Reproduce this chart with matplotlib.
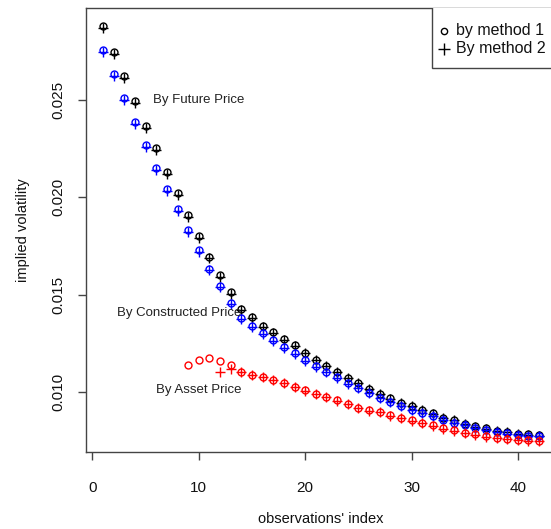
import matplotlib
matplotlib.use("Agg")
import matplotlib.pyplot as plt
from matplotlib.patches import Rectangle

plt.rcParams["font.family"] = ["Liberation Sans", "DejaVu Sans"]

# observation index
obs = list(range(1, 43))
asset_obs_m1 = list(range(9, 43))
asset_obs_m2 = list(range(12, 43))

# implied volatility, future price
future_m1 = [0.02882, 0.02748, 0.02623, 0.02496, 0.02366, 0.02252, 0.02132, 0.02021,
             0.01909, 0.01801, 0.01695, 0.01601, 0.01512, 0.01425, 0.01384, 0.01341,
             0.01307, 0.01271, 0.01240, 0.01202, 0.01168, 0.01137, 0.01104, 0.01074,
             0.01048, 0.01019, 0.00993, 0.00968, 0.00945, 0.00928, 0.00908, 0.00891,
             0.00870, 0.00856, 0.00839, 0.00825, 0.00814, 0.00801, 0.00796, 0.00788,
             0.00784, 0.00779]
future_m2 = [0.02871, 0.02737, 0.02612, 0.02486, 0.02356, 0.02242, 0.02122, 0.02012,
             0.01900, 0.01793, 0.01688, 0.01594, 0.01506, 0.01420, 0.01380, 0.01337,
             0.01304, 0.01268, 0.01237, 0.01200, 0.01166, 0.01135, 0.01102, 0.01072,
             0.01046, 0.01018, 0.00992, 0.00967, 0.00944, 0.00927, 0.00907, 0.00890,
             0.00869, 0.00855, 0.00838, 0.00824, 0.00813, 0.00800, 0.00795, 0.00787,
             0.00783, 0.00778]

# implied volatility, constructed price
constructed_m1 = [0.02757, 0.02632, 0.02509, 0.02385, 0.02269, 0.02149, 0.02041, 0.01940,
                  0.01832, 0.01729, 0.01635, 0.01545, 0.01459, 0.01382, 0.01339, 0.01302,
                  0.01267, 0.01230, 0.01199, 0.01164, 0.01134, 0.01106, 0.01076, 0.01045,
                  0.01024, 0.00996, 0.00973, 0.00950, 0.00928, 0.00911, 0.00894, 0.00877,
                  0.00856, 0.00842, 0.00831, 0.00815, 0.00805, 0.00795, 0.00789, 0.00782,
                  0.00777, 0.00774]
constructed_m2 = [0.02746, 0.02621, 0.02498, 0.02375, 0.02259, 0.02140, 0.02032, 0.01932,
                  0.01824, 0.01722, 0.01628, 0.01539, 0.01454, 0.01378, 0.01335, 0.01299,
                  0.01264, 0.01227, 0.01197, 0.01162, 0.01132, 0.01104, 0.01074, 0.01044,
                  0.01023, 0.00995, 0.00972, 0.00949, 0.00927, 0.00910, 0.00893, 0.00876,
                  0.00855, 0.00841, 0.00830, 0.00814, 0.00804, 0.00794, 0.00788, 0.00781,
                  0.00776, 0.00773]

# implied volatility, asset price
asset_m1 = [0.01139, 0.01168, 0.01175, 0.01159, 0.01142, 0.01104, 0.01091, 0.01079,
            0.01065, 0.01048, 0.01027, 0.01010, 0.00993, 0.00976, 0.00959, 0.00942,
            0.00921, 0.00908, 0.00899, 0.00882, 0.00870, 0.00856, 0.00842, 0.00831,
            0.00814, 0.00805, 0.00791, 0.00784, 0.00774, 0.00767, 0.00762, 0.00757,
            0.00753, 0.00750]
asset_m2 = [0.01104, 0.01117, 0.01102, 0.01089, 0.01077, 0.01063, 0.01046, 0.01025,
            0.01008, 0.00991, 0.00974, 0.00957, 0.00940, 0.00919, 0.00906, 0.00897,
            0.00880, 0.00868, 0.00854, 0.00840, 0.00829, 0.00812, 0.00803, 0.00789,
            0.00782, 0.00772, 0.00765, 0.00760, 0.00755, 0.00751, 0.00748]

x_ticks = [0, 10, 20, 30, 40]
y_ticks = [0.010, 0.015, 0.020, 0.025]
legend_labels = ["by method 1", "By method 2"]
legend_markers = ["o", "+"]

fig = plt.figure(figsize=(5.51, 5.29), dpi=100)
# right edge of the plot box lies just outside the picture, as in the original
ax = fig.add_axes([0.1555, 0.145, 0.8546, 0.840])

circ = dict(linestyle="none", marker="o", markersize=5, fillstyle="none", markeredgewidth=1)
plus = dict(linestyle="none", marker="+", markersize=7, markeredgewidth=1)

ax.plot(obs, future_m1, color="black", **circ)
ax.plot(obs, future_m2, color="black", **plus)
ax.plot(obs, constructed_m1, color="#0000FF", **circ)
ax.plot(obs, constructed_m2, color="#0000FF", **plus)
ax.plot(asset_obs_m1, asset_m1, color="#FF0000", **circ)
ax.plot(asset_obs_m2, asset_m2, color="#FF0000", **plus)

ax.text(10, 0.025, "By Future Price", ha="center", va="center", fontsize=9.5, color="#222222")
ax.text(8.2, 0.01406, "By Constructed Price", ha="center", va="center", fontsize=9.5, color="#222222")
ax.text(10, 0.0101, "By Asset Price", ha="center", va="center", fontsize=9.5, color="#222222")

ax.set_xlim(-0.64, 43.64)
ax.set_ylim(0.006918, 0.029726)
ax.set_xticks(x_ticks)
ax.set_xticklabels([str(t) for t in x_ticks])
ax.set_yticks(y_ticks)
ax.set_yticklabels(["%.3f" % t for t in y_ticks], rotation=90, va="center")
ax.tick_params(axis="both", direction="out", length=5.8, width=1, color="#444444",
               labelsize=11, labelcolor="#111111")
ax.tick_params(axis="x", pad=15)
ax.tick_params(axis="y", pad=9)

for s in ax.spines.values():
    s.set_color("#444444")
    s.set_linewidth(1)

ax.set_xlabel("observations' index", fontsize=10.5, color="#111111", va="center")
ax.set_ylabel("implied volatility", fontsize=10.5, color="#111111", va="center")
ax.xaxis.set_label_coords(0.5, -0.150)
ax.yaxis.set_label_coords(-0.133, 0.5)

# legend box in the R style: square frame hanging from the top of the plot box
ax.add_patch(Rectangle((0.7354, 0.865), 0.4, 0.2, transform=ax.transAxes, fill=True,
                       facecolor="white", edgecolor="#444444", linewidth=1, zorder=5,
                       clip_on=True))
row_y = [0.9487, 0.9082]
for lab, mk, yy in zip(legend_labels, legend_markers, row_y):
    ax.plot([0.7620], [yy], transform=ax.transAxes, color="black", marker=mk,
            markersize=4.5 if mk == "o" else 9, fillstyle="none", markeredgewidth=1,
            linestyle="none", zorder=6, clip_on=False)
    ax.text(0.7860, yy, lab, transform=ax.transAxes, ha="left", va="center",
            fontsize=11.5, color="#111111", zorder=6)

fig.savefig("out.png", dpi=100)
